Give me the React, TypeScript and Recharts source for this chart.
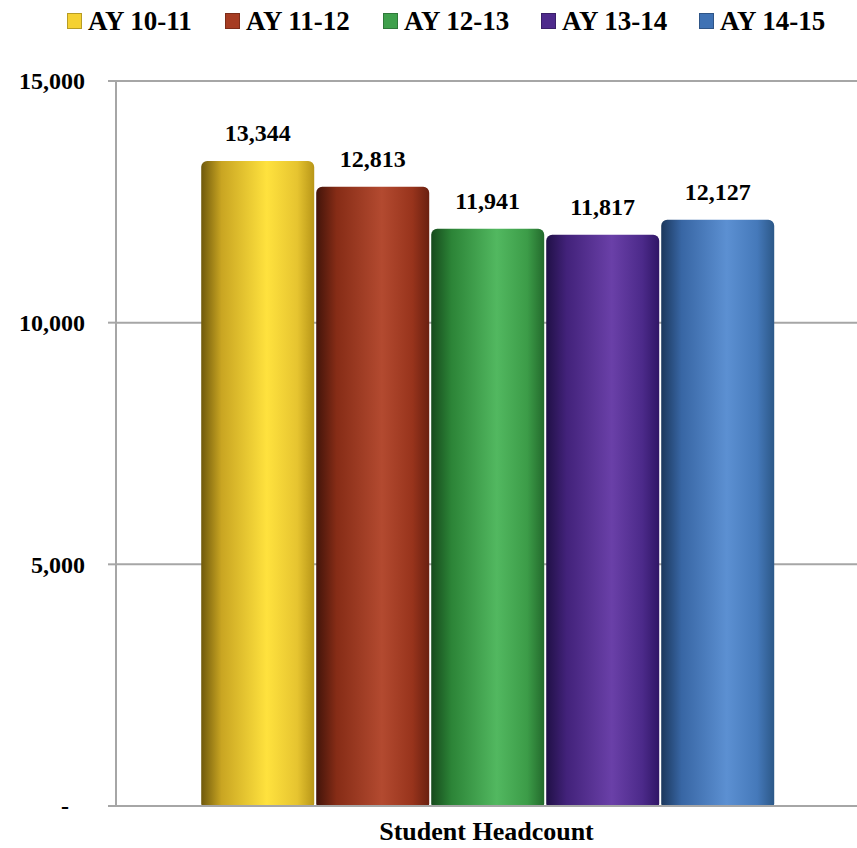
import React from 'react'
import {
  BarChart,
  Bar,
  XAxis,
  YAxis,
  CartesianGrid,
  Legend,
  LabelList,
} from 'recharts'

const categories = ['Student Headcount']
const seriesNames = ['AY 10-11', 'AY 11-12', 'AY 12-13', 'AY 13-14', 'AY 14-15']
const headcounts = [13344, 12813, 11941, 11817, 12127]
const yTicks = [0, 5000, 10000, 15000]

// dark edge, mid, highlight, mid, dark edge
const shades = [
  ['#6f590c', '#c9a522', '#ffe23e', '#e6c430', '#b89618'],
  ['#42140a', '#862c16', '#b34a30', '#98341c', '#6a2010'],
  ['#164a1c', '#2c8437', '#52b860', '#3c9c48', '#236a2c'],
  ['#201046', '#42227a', '#6a40a8', '#4c2a8a', '#301666'],
  ['#1b375c', '#3866a4', '#5c90d2', '#4579ba', '#2c5888'],
]
const legendColors = ['#f5d132', '#a63c22', '#3fa04c', '#4e2a8c', '#3f72b4']

const data = categories.map((name) => {
  const row: Record<string, string | number> = { name }
  seriesNames.forEach((s, i) => {
    row[s] = headcounts[i]
  })
  return row
})

const FONT = 'Liberation Serif'
const GRID = '#a6a6a6'

const fmt = (v: number) => (v === 0 ? '-' : v.toLocaleString('en-US'))

function LegendBox() {
  return (
    <div style={{ display: 'flex', height: 40, paddingLeft: 67, alignItems: 'flex-start' }}>
      {seriesNames.map((s, i) => (
        <div key={s} style={{ display: 'flex', alignItems: 'center', width: 159, marginTop: 8 }}>
          <span
            style={{
              display: 'inline-block',
              width: 13,
              height: 14,
              background: legendColors[i],
              border: '1px solid rgba(0,0,0,0.25)',
              marginRight: 6,
            }}
          />
          <span style={{ fontFamily: FONT, fontWeight: 700, fontSize: 27, lineHeight: '26px', color: '#000' }}>
            {s}
          </span>
        </div>
      ))}
    </div>
  )
}

function YTick({ x, y, payload }: any) {
  const zero = payload.value === 0
  return (
    <text
      x={zero ? x - 16 : x}
      y={y}
      dy="0.35em"
      textAnchor="end"
      style={{ fontFamily: FONT, fontWeight: 700, fontSize: 24 }}
      fill="#000"
    >
      {fmt(payload.value)}
    </text>
  )
}

export default function App() {
  return (
    <div style={{ position: 'absolute', left: 0, top: 0, background: '#fff', fontFamily: FONT }}>
      <BarChart
        width={857}
        height={848}
        data={data}
        margin={{ top: 41, right: 0, bottom: 0, left: 0 }}
        barCategoryGap="11.5%"
        barGap={2}
      >
        <defs>
          {shades.map((c, i) => (
            <linearGradient key={i} id={`cyl${i}`} x1="0" y1="0" x2="1" y2="0">
              <stop offset="0%" stopColor={c[0]} />
              <stop offset="18%" stopColor={c[1]} />
              <stop offset="58%" stopColor={c[2]} />
              <stop offset="85%" stopColor={c[3]} />
              <stop offset="100%" stopColor={c[4]} />
            </linearGradient>
          ))}
        </defs>
        <Legend
          verticalAlign="top"
          content={() => <LegendBox />}
          wrapperStyle={{ top: 0, left: 0, width: 857 }}
        />
        <CartesianGrid horizontal vertical={false} stroke={GRID} strokeWidth={2} />
        <XAxis
          dataKey="name"
          height={42}
          tickLine={false}
          axisLine={{ stroke: GRID, strokeWidth: 2 }}
          tickMargin={10}
          tick={{ fontFamily: FONT, fontWeight: 700, fontSize: 26, fill: '#000' }}
        />
        <YAxis
          width={116}
          domain={[0, 15000]}
          ticks={yTicks}
          interval={0}
          tickSize={8}
          tickMargin={23}
          tickLine={{ stroke: GRID, strokeWidth: 2 }}
          axisLine={{ stroke: GRID, strokeWidth: 2 }}
          tick={<YTick />}
        />
        {seriesNames.map((s, i) => (
          <Bar key={s} dataKey={s} fill={`url(#cyl${i})`} radius={[6, 6, 2, 2]} isAnimationActive={false}>
            <LabelList
              dataKey={s}
              position="top"
              offset={20}
              formatter={(v: any) => fmt(Number(v))}
              style={{ fontFamily: FONT, fontWeight: 700, fontSize: 24, fill: '#000' }}
            />
          </Bar>
        ))}
      </BarChart>
    </div>
  )
}
